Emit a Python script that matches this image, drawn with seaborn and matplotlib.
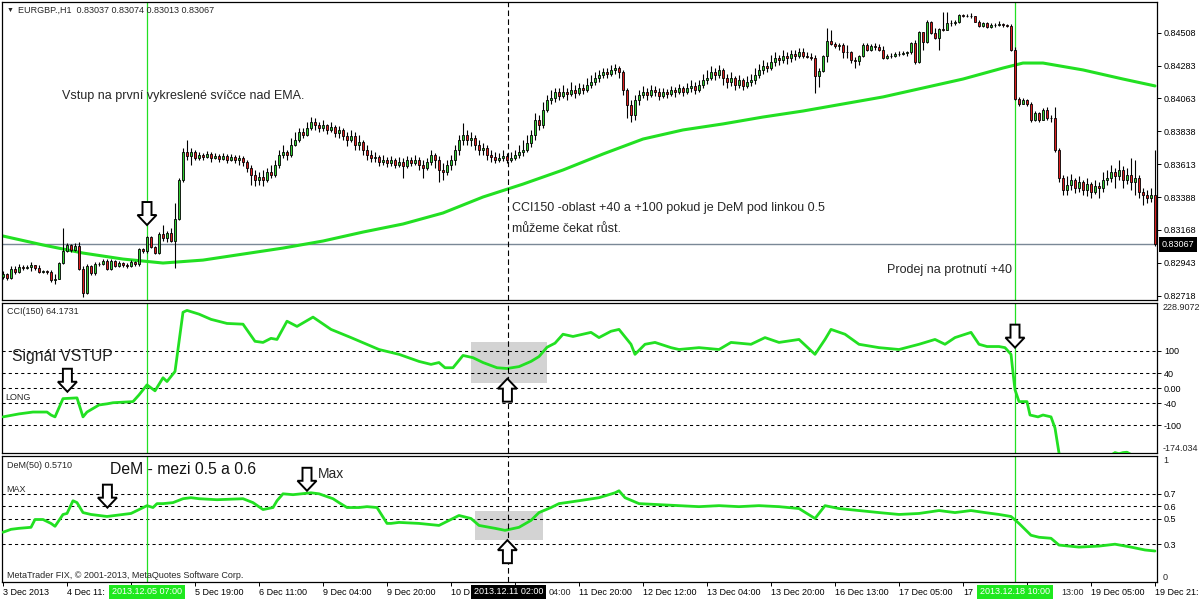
import numpy as np
import pandas as pd
import seaborn as sns
import matplotlib.pyplot as plt
import matplotlib.transforms as mtransforms
from matplotlib.patches import Rectangle, Polygon

sns.set_theme(style="white")
plt.rcParams['font.family'] = ['Liberation Sans', 'DejaVu Sans']

# EURGBP H1 candles, prices in points (1e-5). open = previous close
first_open_pt = 82844
closes_pt = [
    82865, 82838, 82899, 82878, 82913, 82906, 82913, 82926, 82906, 82878,
    82885, 82878, 82824, 82831, 82940, 83022, 83063, 83028, 83056, 82899,
    82735, 82919, 82872, 82933, 82933, 82953, 82899, 82953, 82919, 82940,
    82926, 82919, 82947, 82933, 83035, 83022, 83117, 83049, 83008, 83138,
    83110, 83144, 83090, 83240, 83506, 83697, 83670, 83697, 83656, 83676,
    83663, 83683, 83656, 83670, 83649, 83670, 83642, 83663, 83642, 83656,
    83629, 83588, 83540, 83506, 83526, 83506, 83560, 83540, 83608, 83676,
    83697, 83676, 83744, 83778, 83833, 83813, 83860, 83901, 83881, 83860,
    83881, 83847, 83867, 83826, 83847, 83806, 83778, 83806, 83744, 83765,
    83710, 83676, 83656, 83663, 83629, 83642, 83622, 83642, 83608, 83629,
    83602, 83642, 83622, 83642, 83608, 83588, 83629, 83676, 83642, 83574,
    83560, 83608, 83642, 83710, 83778, 83813, 83778, 83792, 83744, 83710,
    83724, 83676, 83663, 83642, 83656, 83670, 83642, 83656, 83676, 83697,
    83710, 83758, 83813, 83915, 83881, 83983, 84051, 84065, 84106, 84078,
    84106, 84092, 84119, 84099, 84133, 84119, 84153, 84174, 84201, 84222,
    84242, 84228, 84256, 84269, 84242, 84119, 84017, 83949, 84051, 84085,
    84106, 84085, 84119, 84106, 84078, 84106, 84092, 84119, 84106, 84133,
    84106, 84133, 84147, 84119, 84153, 84188, 84201, 84242, 84222, 84256,
    84201, 84174, 84201, 84153, 84188, 84147, 84174, 84188, 84222, 84256,
    84283, 84269, 84310, 84337, 84324, 84351, 84337, 84365, 84351, 84378,
    84351, 84344, 84337, 84215, 84249, 84351, 84453, 84433, 84419, 84426,
    84378, 84378, 84324, 84317, 84351, 84426, 84392, 84419, 84412, 84392,
    84337, 84351, 84351, 84365, 84365, 84372, 84378, 84440, 84310, 84515,
    84447, 84583, 84508, 84474, 84535, 84528, 84576, 84576, 84583, 84631,
    84624, 84624, 84624, 84583, 84556, 84576, 84549, 84563, 84563, 84569,
    84563, 84556, 84392, 84058, 84024, 84051, 84024, 83915, 83963, 83915,
    83983, 83928, 83928, 83710, 83520, 83438, 83472, 83506, 83451, 83492,
    83438, 83479, 83424, 83465, 83451, 83506, 83520, 83560, 83533, 83574,
    83506, 83540, 83492, 83520, 83424, 83403, 83383, 83403, 83069,
]
highs_pt = [
    82885, 82872, 82919, 82919, 82933, 82926, 82926, 82947, 82926, 82926,
    82892, 82892, 82892, 82865, 82947, 83179, 83076, 83069, 83076, 83083,
    82919, 82933, 82926, 82947, 82947, 82967, 82967, 82967, 82960, 82953,
    82947, 82940, 82960, 82953, 83042, 83042, 83124, 83124, 83056, 83151,
    83199, 83158, 83179, 83349, 83520, 83724, 83778, 83724, 83710, 83697,
    83690, 83704, 83697, 83690, 83683, 83690, 83683, 83683, 83676, 83676,
    83670, 83642, 83608, 83574, 83560, 83574, 83588, 83608, 83642, 83710,
    83744, 83710, 83792, 83833, 83860, 83860, 83901, 83935, 83928, 83901,
    83915, 83888, 83901, 83881, 83874, 83860, 83833, 83847, 83833, 83813,
    83778, 83744, 83710, 83697, 83676, 83676, 83663, 83670, 83656, 83663,
    83656, 83670, 83663, 83676, 83663, 83642, 83656, 83710, 83690, 83670,
    83622, 83642, 83676, 83744, 83813, 83894, 83847, 83833, 83813, 83778,
    83758, 83744, 83710, 83697, 83690, 83710, 83690, 83697, 83710, 83744,
    83778, 83813, 83847, 83963, 83949, 84038, 84085, 84119, 84133, 84133,
    84153, 84133, 84174, 84153, 84167, 84160, 84201, 84222, 84242, 84256,
    84269, 84269, 84290, 84297, 84283, 84256, 84133, 84051, 84085, 84119,
    84147, 84133, 84153, 84147, 84133, 84133, 84126, 84147, 84140, 84160,
    84147, 84167, 84188, 84174, 84188, 84228, 84256, 84283, 84269, 84290,
    84269, 84228, 84242, 84215, 84222, 84201, 84215, 84228, 84269, 84297,
    84324, 84310, 84358, 84378, 84358, 84392, 84378, 84392, 84392, 84406,
    84406, 84378, 84372, 84358, 84269, 84358, 84542, 84528, 84447, 84440,
    84440, 84426, 84385, 84344, 84358, 84440, 84440, 84433, 84440, 84433,
    84419, 84365, 84372, 84378, 84385, 84385, 84385, 84447, 84460, 84522,
    84508, 84597, 84590, 84542, 84542, 84651, 84651, 84597, 84597, 84638,
    84638, 84638, 84644, 84624, 84597, 84583, 84583, 84576, 84576, 84590,
    84576, 84569, 84569, 84412, 84072, 84065, 84058, 84038, 83976, 83969,
    83997, 84004, 83949, 84004, 83724, 83540, 83533, 83547, 83520, 83533,
    83506, 83520, 83492, 83506, 83492, 83560, 83574, 83608, 83588, 83642,
    83602, 83588, 83656, 83642, 83540, 83451, 83438, 83451, 83710,
]
lows_pt = [
    82831, 82824, 82831, 82865, 82872, 82892, 82899, 82885, 82892, 82872,
    82872, 82865, 82810, 82797, 82831, 82933, 83015, 83015, 83022, 82892,
    82708, 82729, 82858, 82858, 82919, 82926, 82892, 82892, 82913, 82913,
    82913, 82906, 82913, 82919, 82919, 83008, 83008, 83042, 83001, 83001,
    83090, 83083, 83083, 82906, 83233, 83492, 83642, 83608, 83642, 83642,
    83642, 83656, 83629, 83649, 83629, 83642, 83622, 83636, 83622, 83608,
    83602, 83560, 83472, 83465, 83472, 83465, 83492, 83520, 83526, 83588,
    83656, 83642, 83663, 83738, 83765, 83792, 83806, 83847, 83847, 83833,
    83840, 83820, 83833, 83799, 83792, 83778, 83738, 83765, 83710, 83710,
    83676, 83642, 83629, 83629, 83602, 83608, 83595, 83602, 83588, 83595,
    83520, 83588, 83602, 83608, 83574, 83520, 83574, 83608, 83588, 83492,
    83506, 83540, 83574, 83608, 83676, 83744, 83744, 83738, 83710, 83676,
    83676, 83642, 83629, 83622, 83629, 83636, 83622, 83629, 83642, 83656,
    83670, 83697, 83731, 83778, 83847, 83860, 83969, 84024, 84038, 84051,
    84065, 84051, 84078, 84065, 84085, 84092, 84106, 84133, 84153, 84174,
    84201, 84201, 84215, 84228, 84201, 84085, 83928, 83901, 83915, 84017,
    84065, 84051, 84072, 84078, 84051, 84065, 84065, 84078, 84072, 84092,
    84078, 84092, 84106, 84092, 84106, 84133, 84160, 84188, 84188, 84201,
    84153, 84133, 84147, 84119, 84133, 84119, 84133, 84147, 84160, 84201,
    84228, 84242, 84256, 84283, 84290, 84303, 84297, 84310, 84324, 84337,
    84337, 84337, 84324, 84099, 84140, 84242, 84310, 84426, 84406, 84392,
    84337, 84337, 84303, 84269, 84290, 84344, 84385, 84385, 84392, 84385,
    84331, 84331, 84337, 84344, 84351, 84358, 84351, 84365, 84297, 84303,
    84392, 84440, 84501, 84467, 84392, 84522, 84528, 84556, 84563, 84576,
    84617, 84617, 84610, 84583, 84549, 84549, 84542, 84542, 84549, 84556,
    84549, 84549, 84385, 84051, 84010, 84024, 84010, 83901, 83908, 83901,
    83928, 83915, 83901, 83697, 83492, 83403, 83403, 83438, 83417, 83424,
    83403, 83397, 83383, 83410, 83383, 83424, 83472, 83492, 83451, 83506,
    83451, 83479, 83438, 83403, 83383, 83335, 83349, 83356, 83056,
]

# EMA on price chart
ema_bar = [0, 10, 20, 30, 40, 50, 60, 70, 80, 90, 100, 110, 120, 130, 140, 150,
           160, 170, 180, 190, 200, 210, 220, 230, 240, 250, 255, 260, 270, 280, 288]
ema_pt = [83124, 83063, 83008, 82967, 82940, 82960, 83001, 83042, 83090, 83151,
          83206, 83281, 83390, 83478, 83574, 83683, 83785, 83847, 83888, 83935,
          83976, 84024, 84072, 84133, 84194, 84269, 84303, 84303, 84256, 84194, 84147]

# CCI(150)
cci_bar = [0, 4, 7.5, 11, 12, 13, 15, 18.5, 20, 21, 24, 26, 27.5, 32.5, 34, 36, 38, 40, 41, 43,
           45, 46, 49, 52, 56, 60, 63, 65, 67, 68.5, 71, 73.5, 77.5, 82, 87, 94, 99, 104, 107, 109,
           110.5, 112.5, 115, 117.5, 120, 123.5, 126, 129, 132, 134, 136, 138, 140, 142.5, 147, 149,
           152, 154, 157, 158, 160.5, 163, 167, 169, 174, 179, 182, 187, 190.5, 194, 199, 203, 205.5,
           207, 210.5, 214, 219, 224, 229, 233, 235.5, 238, 242, 244, 246, 249, 250.5, 252, 252.5,
           253, 254, 256, 256.75, 258.75, 260, 262, 263, 264, 266, 268, 272, 276, 277, 278, 279,
           280, 281, 282, 284, 288]
cci_val = [-77, -69, -64, -64, -72, -77, -28, -26, -77, -64, -45, -42, -39, -36, -18, 9, -7, 28, 18, 45,
           204, 209, 199, 185, 174, 172, 126, 123, 134, 131, 180, 166, 191, 158, 136, 104, 91, 72, 64, 69,
           55, 55, 88, 82, 69, 55, 53, 58, 72, 85, 110, 121, 145, 139, 150, 136,
           153, 158, 118, 91, 118, 123, 109, 104, 109, 104, 123, 118, 136, 123, 131, 91, 131,
           158, 145, 118, 109, 104, 118, 131, 118, 136, 150, 118, 112, 112, 109, 91, 42,
           -4, -36, -36, -72, -77, -72, -77, -107, -174, -210, -230, -220, -195, -180, -173, -176,
           -173, -172, -178, -190, -200]

# DeMarker(50)
dem_bar = [0, 2, 4, 7, 8, 10, 12, 13, 15, 16, 17.5, 18.5, 20, 22, 24, 26, 30, 32, 33.5, 36,
           37.5, 38.5, 40, 42.5, 45, 47, 49, 53.5, 60, 62.5, 65, 67.5, 68.5, 70, 72.5, 77, 79, 82.5, 84, 86,
           89, 91, 93.5, 96, 97, 99, 104, 109, 114, 117, 119, 123, 125.5, 129, 132, 134, 137, 139, 144, 149,
           153, 154, 155.5, 159, 164, 169, 174, 179, 184, 189, 194, 199, 203, 205.5, 209, 214, 219, 224,
           229, 234, 238, 242, 245.5, 249, 252, 254, 257, 259, 262, 264, 269, 274, 278, 282, 285.5, 288]
dem_val = [0.395, 0.418, 0.426, 0.434, 0.496, 0.496, 0.465, 0.442, 0.536, 0.544,
           0.645, 0.630, 0.551, 0.536, 0.528, 0.520, 0.536, 0.544, 0.567, 0.606,
           0.591, 0.622, 0.622, 0.630, 0.661, 0.669, 0.661, 0.653, 0.661, 0.630,
           0.575, 0.591, 0.645, 0.700, 0.693, 0.708, 0.700, 0.661, 0.630, 0.591,
           0.591, 0.598, 0.591, 0.465, 0.465, 0.473, 0.465, 0.449, 0.528, 0.504,
           0.449, 0.426, 0.410, 0.434, 0.489, 0.551, 0.591, 0.622, 0.645, 0.669,
           0.708, 0.724, 0.669, 0.622, 0.614, 0.606, 0.598, 0.606, 0.598, 0.606,
           0.598, 0.583, 0.504, 0.606, 0.583, 0.567, 0.551, 0.536, 0.544, 0.567,
           0.551, 0.567, 0.551, 0.536, 0.520, 0.465, 0.371, 0.355, 0.347, 0.293,
           0.277, 0.285, 0.300, 0.277, 0.254, 0.246]

price_ticks = [0.84508, 0.84283, 0.84063, 0.83838, 0.83613, 0.83388, 0.83168, 0.82943, 0.82718]
last_price = 0.83067
cci_levels = [100, 40, 0, -40, -100]
cci_labels = ['100', '40', '0.00', '-40', '-100']
cci_range = (-174.034, 228.9072)
dem_levels = [0.7, 0.6, 0.5, 0.3]
time_ticks = list(range(0, 289, 16))
# labels as visible on the axis (some are partly hidden by the highlighted dates)
time_labels = ['3 Dec 2013', '4 Dec 11:', '', '5 Dec 19:00', '6 Dec 11:00',
               '9 Dec 04:00', '9 Dec 20:00', '10 D', '', '11 Dec 20:00',
               '12 Dec 12:00', '13 Dec 04:00', '13 Dec 20:00', '16 Dec 13:00', '17 Dec 05:00',
               '17', '', '19 Dec 05:00', '19 Dec 21:']
label_tails = [(128, '04:00'), (256, '13:00')]
entry_bar, exit_bar, cross_bar = 36, 253, 126.3

GREEN = '#22e022'
BULL = '#32cd32'
BEAR = '#dc1e1e'
W, H = 1200, 600

closes = np.array(closes_pt) / 1e5
highs = np.array(highs_pt) / 1e5
lows = np.array(lows_pt) / 1e5
opens = np.r_[first_open_pt / 1e5, closes[:-1]]
highs = np.maximum(highs, np.maximum(opens, closes))
lows = np.minimum(lows, np.minimum(opens, closes))
bars = np.arange(len(closes))

fig = plt.figure(figsize=(12, 6), dpi=100)
fig.patch.set_facecolor('white')


def box(x0, y0, x1, y1):
    return [x0 / W, 1 - y1 / H, (x1 - x0) / W, (y1 - y0) / H]


ax_p = fig.add_axes(box(2, 2, 1157, 300))
ax_c = fig.add_axes(box(2, 303, 1157, 453))
ax_d = fig.add_axes(box(2, 456, 1157, 582))

for ax in (ax_p, ax_c, ax_d):
    ax.set_facecolor('white')
    ax.set_xlim(-0.25, 288.5)
    for s in ax.spines.values():
        s.set_color('black')
        s.set_linewidth(0.9)
    ax.yaxis.tick_right()
    ax.tick_params(axis='y', direction='out', length=3, width=0.7, labelsize=6.5, pad=2,
                   colors='black', left=False, right=True)
    ax.set_xticks([])

ax_p.set_ylim(0.82688, 0.84719)
ax_c.set_ylim(*cci_range)
ax_d.set_ylim(0, 1)

# ---- price panel
ax_p.axhline(last_price, color='#7a8896', lw=1, zorder=1)
ax_p.vlines(bars, lows, highs, color='black', lw=0.8, zorder=3)
body = closes - opens
body = np.where(np.abs(body) < 1.5e-5, np.where(body < 0, -1.5e-5, 1.5e-5), body)
ax_p.bar(bars, body, bottom=opens, width=0.72, color=np.where(closes >= opens, BULL, BEAR),
         edgecolor='black', linewidth=0.6, zorder=4)
sns.lineplot(x=ema_bar, y=np.array(ema_pt) / 1e5, ax=ax_p, color=GREEN, linewidth=2.2,
             errorbar=None, zorder=2)
ax_p.set_yticks(price_ticks)
ax_p.set_yticklabels([f'{v:.5f}' for v in price_ticks])
ax_p.set_xlabel('')
ax_p.set_ylabel('')
ax_p.text(1.0043, last_price, f'{last_price:.5f}', transform=ax_p.get_yaxis_transform(),
          ha='left', va='center', fontsize=6.5, color='white',
          bbox=dict(boxstyle='square,pad=0.3', fc='black', ec='none'), clip_on=False)

# ---- CCI panel
ax_c.add_patch(Rectangle((117, 15), 19, 108, facecolor='#d3d3d3', edgecolor='none', zorder=0.5))
for v in cci_levels:
    ax_c.axhline(v, color='black', lw=0.75, ls=(0, (3, 3)), zorder=1)
sns.lineplot(x=cci_bar, y=cci_val, ax=ax_c, color=GREEN, linewidth=2, errorbar=None, zorder=3)
ax_c.set_yticks(cci_levels)
ax_c.set_yticklabels(cci_labels)
ax_c.set_xlabel('')
ax_c.set_ylabel('')
ax_c.text(1.0052, cci_range[1], f'{cci_range[1]:.4f}', transform=ax_c.get_yaxis_transform(),
          ha='left', va='top', fontsize=6.5, clip_on=False)
ax_c.text(1.0052, cci_range[0], f'{cci_range[0]:.3f}', transform=ax_c.get_yaxis_transform(),
          ha='left', va='bottom', fontsize=6.5, clip_on=False)

# ---- DeM panel
ax_d.add_patch(Rectangle((118, 0.332), 17, 0.235, facecolor='#d3d3d3', edgecolor='none', zorder=0.5))
for v in dem_levels:
    ax_d.axhline(v, color='black', lw=0.75, ls=(0, (3, 3)), zorder=1)
sns.lineplot(x=dem_bar, y=dem_val, ax=ax_d, color=GREEN, linewidth=2, errorbar=None, zorder=3)
ax_d.set_yticks(dem_levels)
ax_d.set_yticklabels([f'{v:g}' for v in dem_levels])
ax_d.set_xlabel('')
ax_d.set_ylabel('')
ax_d.text(1.0052, 1, '1', transform=ax_d.get_yaxis_transform(), ha='left', va='top',
          fontsize=6.5, clip_on=False)
ax_d.text(1.0052, 0, '0', transform=ax_d.get_yaxis_transform(), ha='left', va='bottom',
          fontsize=6.5, clip_on=False)
ax_d.set_xticks(time_ticks)
ax_d.set_xticklabels(time_labels)
ax_d.tick_params(axis='x', direction='out', length=3, width=0.7, labelsize=6.5, pad=1.5,
                 bottom=True, colors='black')
for lbl in ax_d.get_xticklabels():
    lbl.set_ha('left')

# vertical markers across all panels
for ax in (ax_p, ax_c, ax_d):
    ax.axvline(entry_bar, color=GREEN, lw=0.9, zorder=2)
    ax.axvline(exit_bar, color=GREEN, lw=0.9, zorder=2)
    ax.axvline(cross_bar, color='black', lw=0.8, ls=(0, (5, 3)), zorder=5)

# highlighted dates on time axis
tx = mtransforms.blended_transform_factory(ax_d.transData, ax_d.transAxes)
for b, txt, col in [(entry_bar, '2013.12.05 07:00', '#1ee81e'),
                    (cross_bar, '2013.12.11 02:00', 'black'),
                    (exit_bar, '2013.12.18 10:00', '#1ee81e')]:
    ax_d.text(b, -0.079, txt, transform=tx, ha='center', va='center', fontsize=6.5,
              color='white', zorder=10, clip_on=False,
              bbox=dict(boxstyle='square,pad=0.3', fc=col, ec='none'))
for b, txt in label_tails:
    ax_d.text(b + 8.5, -0.050, txt, transform=tx, ha='left', va='top', fontsize=6.5,
              clip_on=False)


# hollow block arrows
def block_arrow(ax, xb, yv, down=True):
    tx0, ty0 = ax.transData.transform((xb, yv))
    s = 1 if down else -1
    pts = [(0, 0), (9.5, 10), (4.5, 10), (4.5, 23), (-4.5, 23), (-4.5, 10), (-9.5, 10)]
    verts = [(tx0 + dx, ty0 + s * dy) for dx, dy in pts]
    fig.add_artist(Polygon(verts, closed=True, facecolor='white', edgecolor='black', lw=1.4,
                           transform=mtransforms.IdentityTransform(), zorder=20))


block_arrow(ax_p, entry_bar, 0.83199, True)
block_arrow(ax_c, 16.1, -9.5, True)
block_arrow(ax_c, exit_bar, 109, True)
block_arrow(ax_c, 126.1, 25.7, False)
block_arrow(ax_d, 26.1, 0.59, True)
block_arrow(ax_d, 76, 0.724, True)
block_arrow(ax_d, 126.1, 0.332, False)


def ftext(x, y, s, size, **kw):
    fig.text(x / W, 1 - y / H, s, fontsize=size, ha='left', va='center', **kw)


ftext(7, 10, '\u25bc', 5)
ftext(18, 10, 'EURGBP.,H1  0.83037 0.83074 0.83013 0.83067', 6.5)
ftext(62, 96, 'Vstup na první vykreslené svíčce nad EMA.', 9)
ftext(512, 208, 'CCI150 -oblast +40 a +100 pokud je DeM pod linkou 0.5', 9)
ftext(512, 229, 'můžeme čekat růst.', 9)
ftext(887, 270, 'Prodej na protnutí +40', 9)
ftext(7, 311, 'CCI(150) 64.1731', 6.5)
ftext(12, 356, 'Signál VSTUP', 11.3, color='#222222')
ftext(5, 398, 'LONG', 6.5)
ftext(7, 466, 'DeM(50) 0.5710', 6.5)
ftext(110, 469, 'DeM - mezi 0.5 a 0.6', 11.3, color='#111111')
ftext(318, 474, 'Max', 10)
ftext(6, 489, 'MAX', 6.5)
ftext(7, 575, 'MetaTrader FIX, © 2001-2013, MetaQuotes Software Corp.', 6.5)

fig.savefig('out.png', dpi=100, facecolor='white')
